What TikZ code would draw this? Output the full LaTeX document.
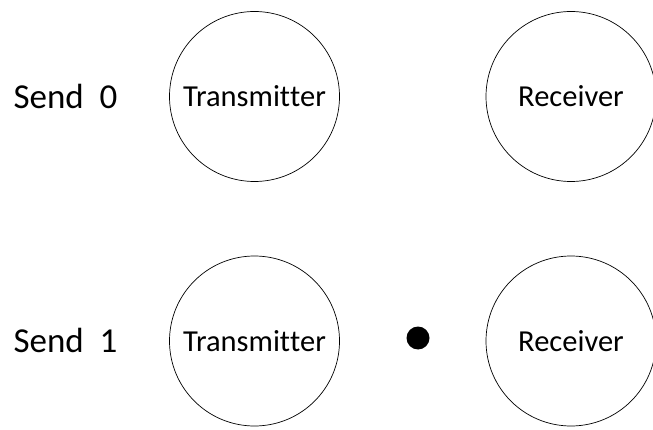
\documentclass[tikz,border=0pt]{standalone}
\usepackage{fontspec}
\setmainfont[RawFeature={-liga;-clig;-dlig}]{Carlito}
\begin{document}
\begin{tikzpicture}[x=1pt,y=-1pt,
  party/.style={circle,draw=black,line width=0.7pt,minimum size=170pt,inner sep=0pt,font=\fontsize{30.5}{33}\selectfont},
  sendlabel/.style={inner sep=0pt,font=\fontsize{35}{38}\selectfont},
  token/.style={circle,fill=black,minimum size=23pt,inner sep=0pt}]
\useasboundingbox (0,0) rectangle (653,430);
\begin{scope}
\clip (0,0) rectangle (653,430);
% first round: nothing in transit
\node[sendlabel] (s0) at (65.5,96.5) {Send\ \ 0};
\node[party] (t0) at (254.5,96.5) {Transmit\kern0pt ter};
\node[party] (r0) at (571,96.5) {Receiver};
% second round: one token in transit
\node[sendlabel] (s1) at (65.5,340) {Send\ \ 1};
\node[party] (t1) at (254.5,341) {Transmit\kern0pt ter};
\node[token] (m1) at (418,338) {};
\node[party] (r1) at (571,341) {Receiver};
\end{scope}
\end{tikzpicture}
\end{document}
